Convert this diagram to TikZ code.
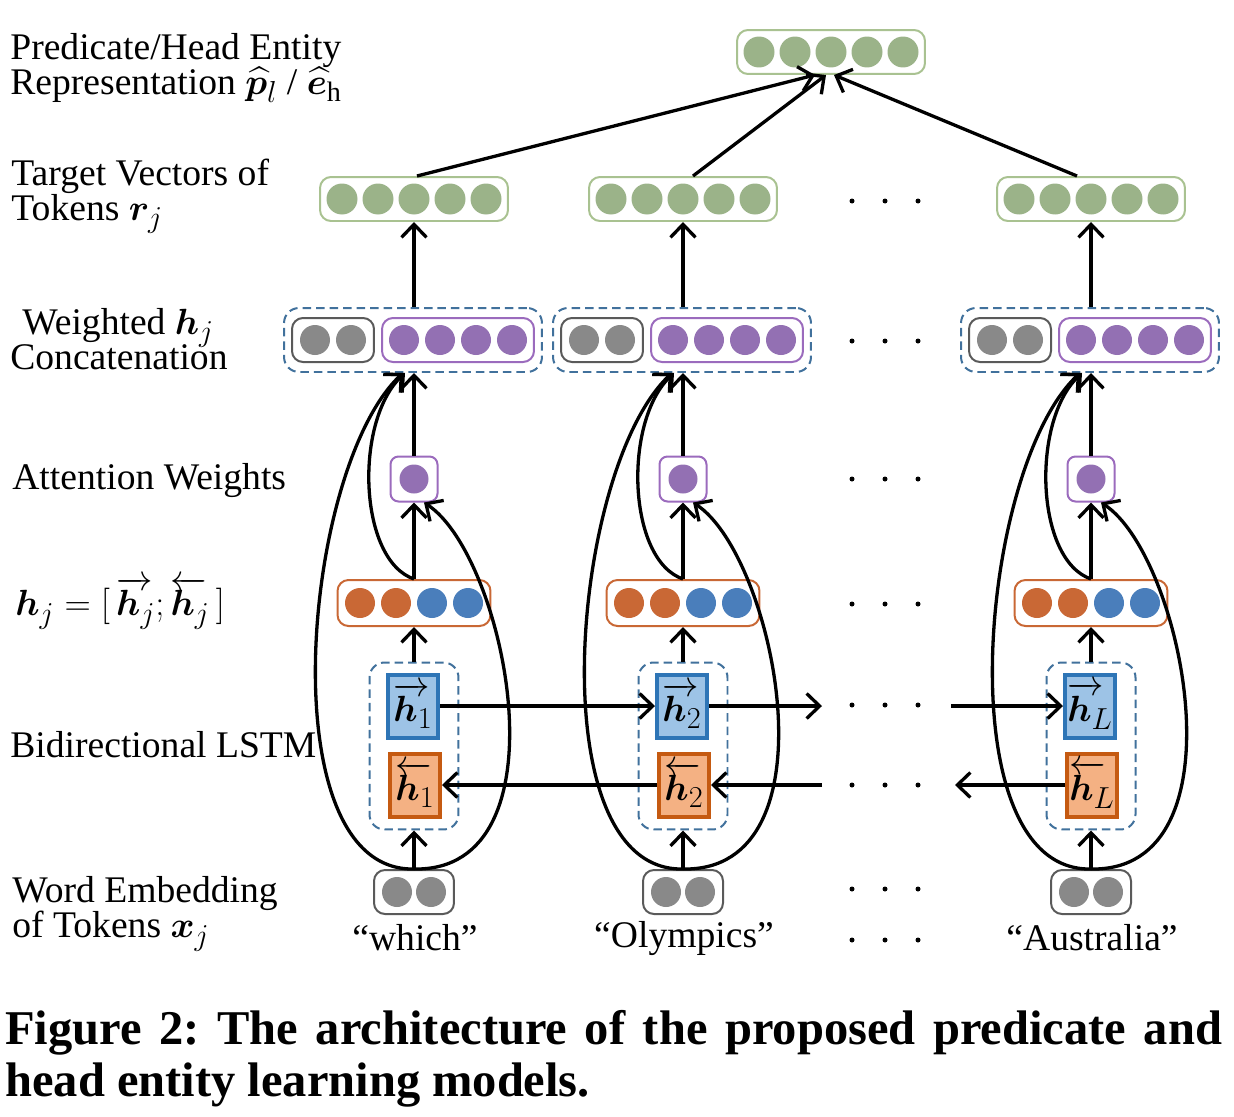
\documentclass[tikz,border=0pt]{standalone}
\usepackage{amsmath}
\usepackage{mathtools}
\usepackage{bm}
\usepackage{fontspec}
\setmainfont{Liberation Serif}
\usetikzlibrary{arrows.meta,positioning}
\DeclareMathSizes{21.4}{21.4}{16}{12}
\DeclareMathSizes{22.5}{22.5}{17}{12.5}

\definecolor{vgreen}{HTML}{9BB389}
\definecolor{vgreenline}{HTML}{A9C291}
\definecolor{vgray}{HTML}{898989}
\definecolor{vgrayline}{HTML}{5A5A5A}
\definecolor{vpurple}{HTML}{9370B3}
\definecolor{vpurpleline}{HTML}{9B6BBD}
\definecolor{vorange}{HTML}{C96835}
\definecolor{vblue}{HTML}{4A7EBB}
\definecolor{vdash}{HTML}{41719C}
\definecolor{fwfill}{HTML}{9DC3E6}
\definecolor{fwline}{HTML}{2E75B6}
\definecolor{bwfill}{HTML}{F4B183}
\definecolor{bwline}{HTML}{C55A11}

\newcommand{\fwh}[1]{{\mathrlap{\overrightarrow{\phantom{\bm h}}}\bm h}_{#1}}
\newcommand{\bwh}[1]{{\mathrlap{\overleftarrow{\phantom{\bm h}}}\bm h}_{#1}}

\tikzset{
  vecbox/.style={draw, rounded corners=0.22cm, line width=0.04cm, minimum height=0.88cm, inner sep=0},
  dashbox/.style={draw=vdash, dash pattern=on 0.17cm off 0.1cm, rounded corners=0.3cm, line width=0.04cm, inner sep=0},
  fwbox/.style={draw=fwline, fill=fwfill, line width=0.08cm, minimum width=1cm, minimum height=1.26cm, inner sep=0, font=\fontsize{22.5}{23}\selectfont},
  bwbox/.style={fwbox, draw=bwline, fill=bwfill},
  lbl/.style={anchor=west, align=left, inner sep=0, font={\fontsize{21.4}{20}\selectfont\lineskiplimit=-20pt}},
  word/.style={inner sep=0, font=\fontsize{21.4}{22}\selectfont},
  conn/.style={->, line width=0.066cm},
  >={Straight Barb[length=0.26cm, width=0.5cm]},
}

\begin{document}
\begin{tikzpicture}[x=0.02cm, y=-0.02cm]
	\useasboundingbox (0,0) rectangle (1234,1116);
	% left labels
	\node[lbl] (lrep) at (10,68) {Predicate/Head Entity\\Representation $\widehat{\bm p}_l$ / $\widehat{\bm e}_{\mathrm h}$};
	\node[lbl] (ltgt) at (11,196) {Target Vectors of\\Tokens $\bm r_j$};
	\node[lbl] (lcat) at (10,339) {\hspace{0.24cm}Weighted $\bm h_j$\\Concatenation};
	\node[lbl] (latt) at (12,481) {Attention Weights};
	\node[lbl] (lhj) at (15,603) {$\bm h_j = [\,\fwh{j};\bwh{j}\,]$};
	\node[lbl] (llstm) at (10,745) {Bidirectional LSTM};
	\node[lbl] (lemb) at (12,914) {Word Embedding\\of Tokens $\bm x_j$};
	% top representation
	\node[vecbox, draw=vgreenline, minimum width=3.76cm] (rep) at (831,52) {};
	\foreach \d in {-72,-36,0,36,72} \fill[vgreen] ([xshift=\d*0.02cm]rep.center) circle (0.31cm);
	% one column per token
	\foreach \c/\x/\w/\s in {1/414/which/1, 2/683/Olympics/2, 3/1091/Australia/L} {
		\node[vecbox, draw=vgrayline, minimum width=1.6cm] (emb\c) at (\x,892) {};
		\foreach \d in {-17,17} \fill[vgray] ([xshift=\d*0.02cm]emb\c.center) circle (0.3cm);
		\node[word] (word\c) at (\x+1,938) {``\w''};
		\node[dashbox, minimum width=1.78cm, minimum height=3.34cm] (lstm\c) at (\x,746) {};
		\node[fwbox] (fw\c) at (\x-1,706) {$\fwh{\s}$};
		\node[bwbox] (bw\c) at (\x+1,785) {$\bwh{\s}$};
		\node[vecbox, draw=vorange, minimum width=3.06cm, minimum height=0.92cm] (hj\c) at (\x,603) {};
		\foreach \d in {-54,-18} \fill[vorange] ([xshift=\d*0.02cm]hj\c.center) circle (0.3cm);
		\foreach \d in {18,54} \fill[vblue] ([xshift=\d*0.02cm]hj\c.center) circle (0.3cm);
		\node[vecbox, draw=vpurpleline, rounded corners=0.16cm, minimum width=0.94cm, minimum height=0.9cm] (att\c) at (\x,479) {};
		\fill[vpurple] (att\c.center) circle (0.29cm);
		\node[dashbox, minimum width=5.16cm, minimum height=1.28cm] (cat\c) at (\x-1,340) {};
		\node[vecbox, draw=vgrayline, minimum width=1.64cm] (gr\c) at (\x-81,340) {};
		\foreach \d in {-18,18} \fill[vgray] ([xshift=\d*0.02cm]gr\c.center) circle (0.3cm);
		\node[vecbox, draw=vpurpleline, minimum width=3.04cm] (pu\c) at (\x+44,340) {};
		\foreach \d in {-54,-18,18,54} \fill[vpurple] ([xshift=\d*0.02cm]pu\c.center) circle (0.3cm);
		\node[vecbox, draw=vgreenline, minimum width=3.76cm] (tgt\c) at (\x,199) {};
		\foreach \d in {-72,-36,0,36,72} \fill[vgreen] ([xshift=\d*0.02cm]tgt\c.center) circle (0.31cm);
		% vertical flow
		\draw[conn] (emb\c) -- (lstm\c);
		\draw[conn] (lstm\c) -- (hj\c);
		\draw[conn] (hj\c) -- (att\c);
		\draw[conn] (att\c) -- ([xshift=0.02cm]cat\c.south);
		\draw[conn] ([xshift=0.02cm]cat\c.north) -- (tgt\c);
		% skip connections
		\draw[conn] (emb\c.north) .. controls (\x-146,872) and (\x-112,468) .. ([xshift=-0.2cm]cat\c.south);
		\draw[conn] (hj\c.north) .. controls (\x-56,560) and (\x-60,420) .. ([xshift=-0.16cm]cat\c.south);
		\draw[conn] (emb\c.north) .. controls (\x+156,872) and (\x+92,556) .. ([xshift=0.2cm]att\c.south);
	}
	% to the representation
	\draw[conn] ([xshift=0.06cm]tgt1.north) -- ([xshift=-0.32cm]rep.south);
	\draw[conn] ([xshift=0.2cm]tgt2.north) -- ([xshift=-0.1cm]rep.south);
	\draw[conn] ([xshift=-0.28cm]tgt3.north) -- ([xshift=0.06cm]rep.south);
	% recurrent links
	\coordinate (fwA) at (822,706);
	\coordinate (fwB) at (951,706);
	\coordinate (bwA) at (822,785);
	\coordinate (bwB) at (955,785);
	\draw[conn] (fw1) -- (fw2);
	\draw[conn] (fw2) -- (fwA);
	\draw[conn] (fwB) -- (fw3);
	\draw[conn] (bw2) -- (bw1);
	\draw[conn] (bwA) -- (bw2);
	\draw[conn] (bw3) -- (bwB);
	% ellipses
	\foreach \y in {201,341,479,604,705,785,889,940}
		\foreach \dx in {852,885,918} \fill (\dx,\y) circle (0.05cm);
	% caption
	\node[anchor=north west, inner sep=0, text width=24.34cm, align=justify, font=\bfseries\fontsize{27.6}{29.6}\selectfont\frenchspacing] (caption) at (5,1010) {Figure 2: The architecture of the proposed predicate and\linebreak head entity learning models.};
\end{tikzpicture}
\end{document}
